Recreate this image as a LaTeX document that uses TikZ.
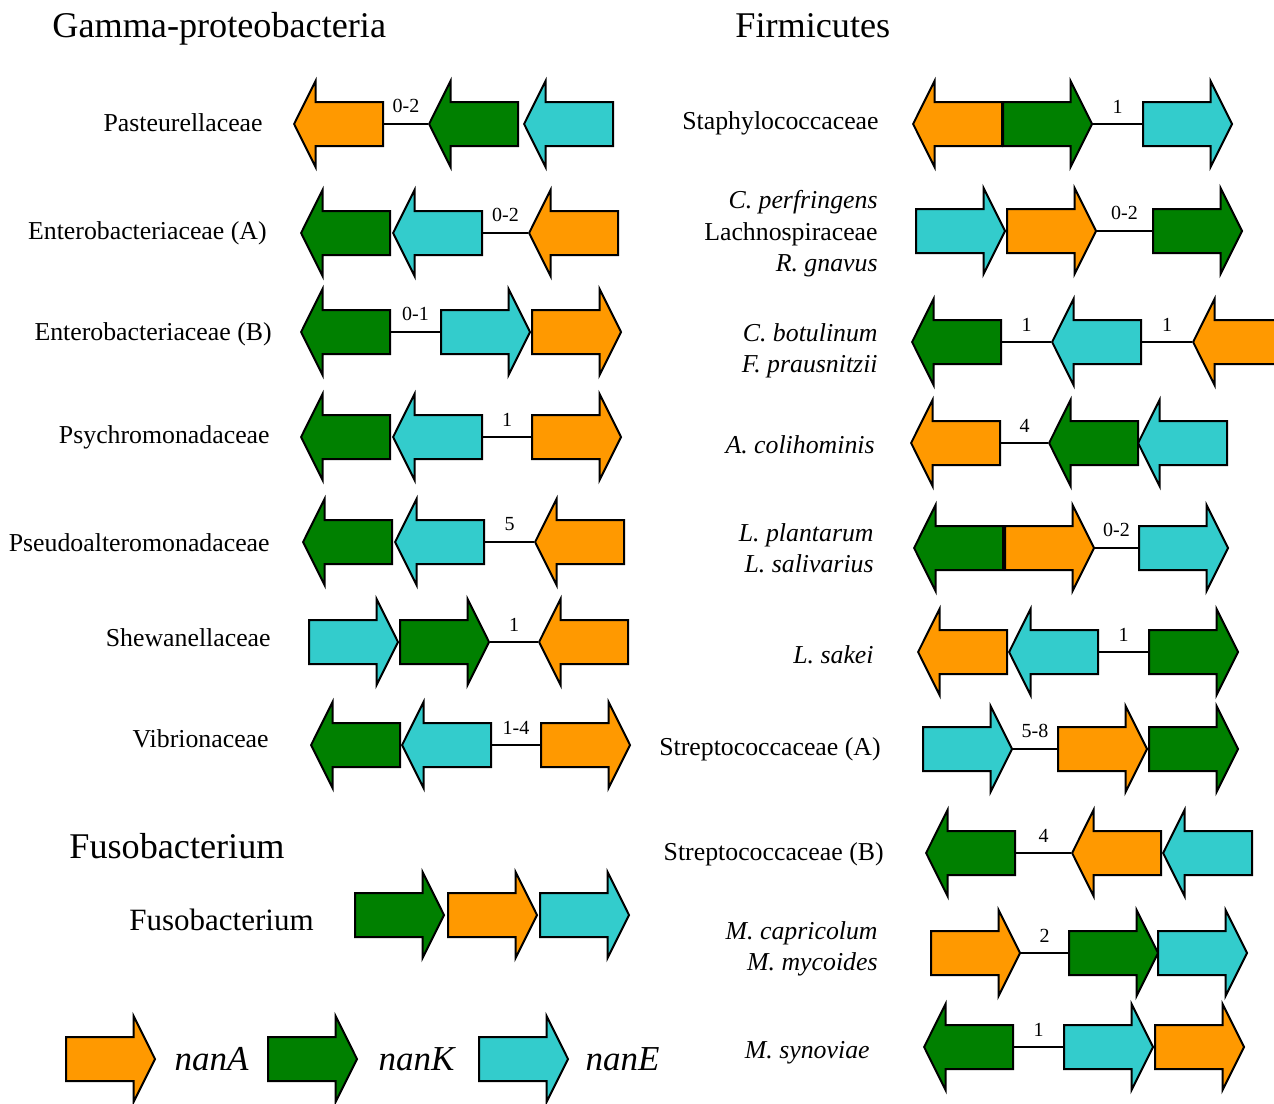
\documentclass[tikz,border=0pt]{standalone}
\usepackage{fontspec}
\setmainfont{Liberation Serif}
\usepackage{tikz}
\usetikzlibrary{shapes.arrows,positioning}
\definecolor{nanAcol}{RGB}{255,153,0}
\definecolor{nanKcol}{RGB}{0,128,0}
\definecolor{nanEcol}{RGB}{51,204,204}

\begin{document}
\begin{tikzpicture}[
  x=0.5pt,y=-0.5pt,
  gene/.style={single arrow,draw=black,line width=1pt,inner xsep=0pt,inner ysep=10.5pt,
     minimum height=44.5pt,single arrow head extend=10.5pt,single arrow tip angle=127},
  fwd/.style={gene,anchor=tail},
  rev/.style={gene,shape border rotate=180,anchor=tip},
  nanA/.style={fill=nanAcol},
  nanK/.style={fill=nanKcol},
  nanE/.style={fill=nanEcol},
  taxon/.style={font=\fontsize{12.9}{15.75}\selectfont,align=right,anchor=east,inner sep=0pt},
  group/.style={font=\fontsize{18.1}{22}\selectfont,anchor=base west,inner sep=0pt},
  gap/.style={font=\fontsize{10}{12}\selectfont,above=5pt,inner sep=0pt},
  spacer/.style={line width=1pt},
  key/.style={font=\fontsize{17.5}{21}\selectfont\itshape,inner sep=0pt}
]
\useasboundingbox (0,0) rectangle (1274,1103);

% headings
\node[group] (gamma) at (52,38) {Gamma-proteobacteria};
\node[group] (firm) at (735,38) {Firmicutes};
\node[group] (fuso) at (69,858) {Fusobacterium};

% Gamma-proteobacteria
\node[taxon] (pas) at (263,123) {Pasteurellaceae};
\node[rev,nanA] (pasA) at (293,124) {};
\node[rev,nanK] (pasK) at (428,124) {};
\node[rev,nanE] (pasE) at (523,124) {};
\draw[spacer] (pasA.tail) -- node[gap]{0-2} (pasK.tip);

\node[taxon] (enta) at (267,233) {Enterobacteriaceae (A)};
\node[rev,nanK] (entaK) at (300,233) {};
\node[rev,nanE] (entaE) at (392,233) {};
\node[rev,nanA] (entaA) at (528,233) {};
\draw[spacer] (entaE.tail) -- node[gap]{0-2} (entaA.tip);

\node[taxon] (entb) at (272,334) {Enterobacteriaceae (B)};
\node[rev,nanK] (entbK) at (300,332) {};
\node[fwd,nanE] (entbE) at (440,332) {};
\node[fwd,nanA] (entbA) at (531,332) {};
\draw[spacer] (entbK.tail) -- node[gap]{0-1} (entbE.tail);

\node[taxon] (psy) at (270,437) {Psychromonadaceae};
\node[rev,nanK] (psyK) at (300,437) {};
\node[rev,nanE] (psyE) at (392,437) {};
\node[fwd,nanA] (psyA) at (531,437) {};
\draw[spacer] (psyE.tail) -- node[gap]{1} (psyA.tail);

\node[taxon] (pse) at (270,543) {Pseudoalteromonadaceae};
\node[rev,nanK] (pseK) at (302,542) {};
\node[rev,nanE] (pseE) at (394,542) {};
\node[rev,nanA] (pseA) at (534,542) {};
\draw[spacer] (pseE.tail) -- node[gap]{5} (pseA.tip);

\node[taxon] (she) at (271,638) {Shewanellaceae};
\node[fwd,nanE] (sheE) at (308,642) {};
\node[fwd,nanK] (sheK) at (399,642) {};
\node[rev,nanA] (sheA) at (538,642) {};
\draw[spacer] (sheK.tip) -- node[gap]{1} (sheA.tip);

\node[taxon] (vib) at (269,739) {Vibrionaceae};
\node[rev,nanK] (vibK) at (310,745) {};
\node[rev,nanE] (vibE) at (401,745) {};
\node[fwd,nanA] (vibA) at (540,745) {};
\draw[spacer] (vibE.tail) -- node[gap]{1-4} (vibA.tail);

% Fusobacterium
\node[taxon,font=\fontsize{15.5}{18}\selectfont] (fus) at (314,920) {Fusobacterium};
\node[fwd,nanK] (fusK) at (354,915) {};
\node[fwd,nanA] (fusA) at (447,915) {};
\node[fwd,nanE] (fusE) at (539,915) {};

% Firmicutes
\node[taxon] (sta) at (879,123) {Staphylococcaceae};
\node[rev,nanA] (staA) at (912,124) {};
\node[fwd,nanK] (staK) at (1002,124) {};
\node[fwd,nanE] (staE) at (1142,124) {};
\draw[spacer] (staK.tip) -- node[gap]{1} (staE.tail);

\node[taxon] (cpe) at (878,234) {\textit{C. perfringens}\\Lachnospiraceae\\\textit{R. gnavus}};
\node[fwd,nanE] (cpeE) at (915,231) {};
\node[fwd,nanA] (cpeA) at (1006,231) {};
\node[fwd,nanK] (cpeK) at (1152,231) {};
\draw[spacer] (cpeA.tip) -- node[gap]{0-2} (cpeK.tail);

\node[taxon] (cbo) at (878,351) {\textit{C. botulinum}\\\textit{F. prausnitzii}};
\node[rev,nanK] (cboK) at (911,342) {};
\node[rev,nanE] (cboE) at (1051,342) {};
\node[rev,nanA] (cboA) at (1192,342) {};
\draw[spacer] (cboK.tail) -- node[gap]{1} (cboE.tip);
\draw[spacer] (cboE.tail) -- node[gap]{1} (cboA.tip);

\node[taxon] (aco) at (875,445) {\textit{A. colihominis}};
\node[rev,nanA] (acoA) at (910,443) {};
\node[rev,nanK] (acoK) at (1048,443) {};
\node[rev,nanE] (acoE) at (1137,443) {};
\draw[spacer] (acoA.tail) -- node[gap]{4} (acoK.tip);

\node[taxon] (lpl) at (874,548) {\textit{L. plantarum}\\\textit{L. salivarius}};
\node[rev,nanK] (lplK) at (913,548) {};
\node[fwd,nanA] (lplA) at (1004,548) {};
\node[fwd,nanE] (lplE) at (1138,548) {};
\draw[spacer] (lplA.tip) -- node[gap]{0-2} (lplE.tail);

\node[taxon] (lsa) at (874,655) {\textit{L. sakei}};
\node[rev,nanA] (lsaA) at (917,652) {};
\node[rev,nanE] (lsaE) at (1008,652) {};
\node[fwd,nanK] (lsaK) at (1148,652) {};
\draw[spacer] (lsaE.tail) -- node[gap]{1} (lsaK.tail);

\node[taxon] (sta) at (881,749) {Streptococcaceae (A)};
\node[fwd,nanE] (stAE) at (922,749) {};
\node[fwd,nanA] (stAA) at (1057,749) {};
\node[fwd,nanK] (stAK) at (1148,749) {};
\draw[spacer] (stAE.tip) -- node[gap]{5-8} (stAA.tail);

\node[taxon] (stb) at (884,854) {Streptococcaceae (B)};
\node[rev,nanK] (stBK) at (925,853) {};
\node[rev,nanA] (stBA) at (1071,853) {};
\node[rev,nanE] (stBE) at (1162,853) {};
\draw[spacer] (stBK.tail) -- node[gap]{4} (stBA.tip);

\node[taxon] (mca) at (878,949) {\textit{M. capricolum}\\\textit{M. mycoides}};
\node[fwd,nanA] (mcaA) at (930,953) {};
\node[fwd,nanK] (mcaK) at (1068,953) {};
\node[fwd,nanE] (mcaE) at (1157,953) {};
\draw[spacer] (mcaA.tip) -- node[gap]{2} (mcaK.tail);

\node[taxon] (msy) at (870,1053) {\textit{M. synoviae}};
\node[rev,nanK] (msyK) at (923,1047) {};
\node[fwd,nanE] (msyE) at (1063,1047) {};
\node[fwd,nanA] (msyA) at (1154,1047) {};
\draw[spacer] (msyK.tail) -- node[gap]{1} (msyE.tail);

% legend
\node[fwd,nanA] (legA) at (65,1059) {};
\node[key,right=9pt of legA.tip] (keyA) {nanA};
\node[fwd,nanK] (legK) at (267,1059) {};
\node[key,right=10pt of legK.tip] (keyK) {nanK};
\node[fwd,nanE] (legE) at (478,1059) {};
\node[key,right=8pt of legE.tip] (keyE) {nanE};
\end{tikzpicture}
\end{document}
